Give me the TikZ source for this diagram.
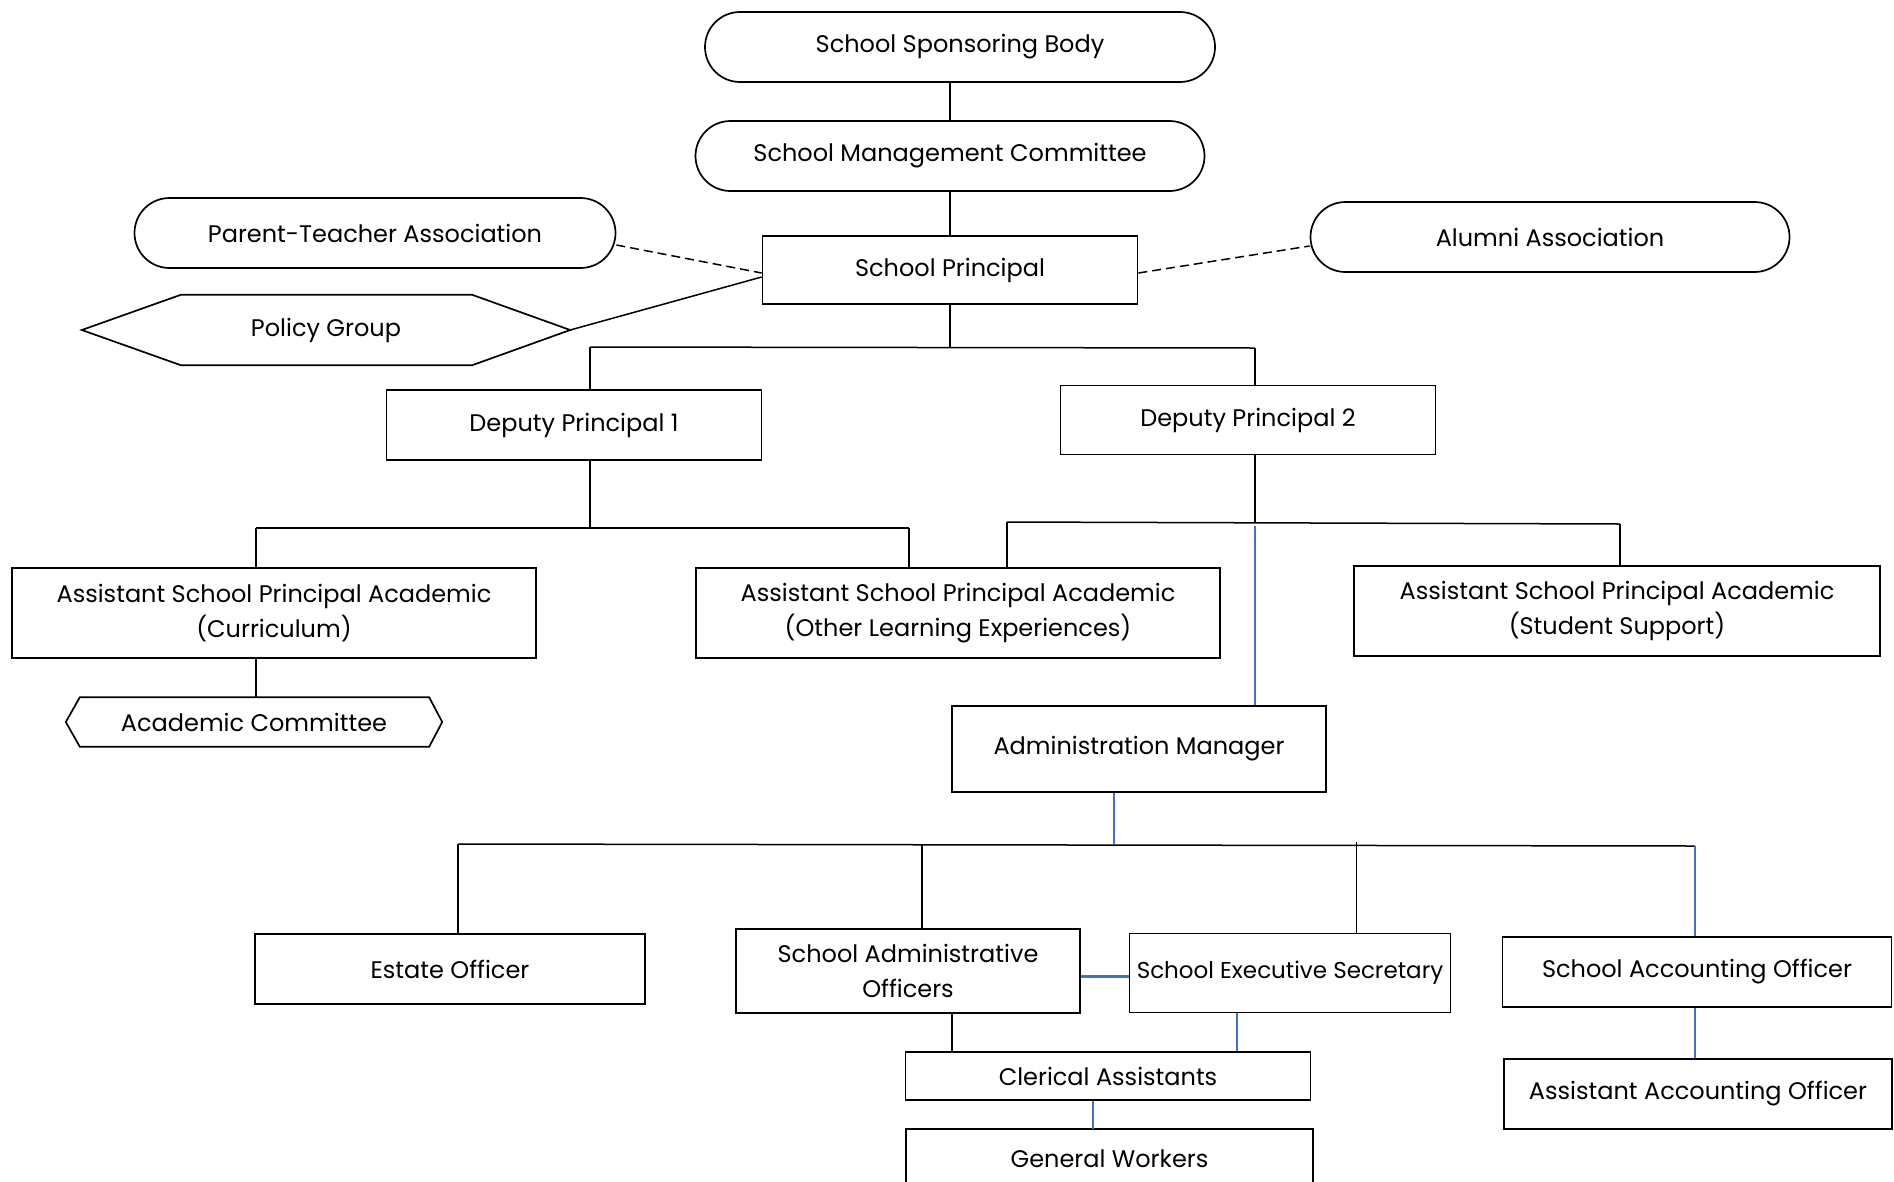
\documentclass[tikz,border=0pt]{standalone}
\usepackage{fontspec}
\setmainfont{Poppins}
\usetikzlibrary{shapes.misc,calc}
\definecolor{lnblue}{RGB}{68,114,196}
\begin{document}
\begin{tikzpicture}[x=1pt,y=-1pt,
  font=\fontsize{24}{35}\selectfont,
  box/.style={draw, line width=1.7pt, rectangle, inner sep=0pt, align=center},
  pill/.style={draw, line width=1.7pt, rounded rectangle, inner sep=0pt, align=center},
  plain/.style={inner sep=0pt, align=center},
  conn/.style={draw=black, line width=1.5pt},
  bconn/.style={draw=lnblue, line width=1.5pt},
  dconn/.style={draw=black, line width=1.5pt, dash pattern=on 9pt off 5pt}]
\useasboundingbox (0,0) rectangle (1894,1181);
\fill[white] (0,0) rectangle (1894,1181);

% top nodes
\node[pill, minimum width=510pt, minimum height=70pt] (sponsor) at (960,47) {School Sponsoring Body};
\node[pill, minimum width=509pt, minimum height=70pt] (smc) at (950,156) {School Management Committee};
\node[box, minimum width=375pt, minimum height=68pt] (principal) at (950,270) {School Principal};
\node[pill, minimum width=481pt, minimum height=70pt] (pta) at (375,233) {Parent-Teacher Association};
\node[pill, minimum width=479pt, minimum height=70pt] (alumni) at (1550,237) {Alumni Association};
\node[plain, minimum width=488pt, minimum height=70pt] (policy) at (326,330) {Policy Group};
\draw[line width=1.7pt] (policy.west) -- ($(policy.north west)+(99,0)$) -- ($(policy.north east)+(-98,0)$)
  -- (policy.east) -- ($(policy.south east)+(-98,0)$) -- ($(policy.south west)+(99,0)$) -- cycle;

% deputies
\node[box, minimum width=375pt, minimum height=70pt] (dp1) at (574,425) {Deputy Principal 1};
\node[box, minimum width=375pt, minimum height=69pt] (dp2) at (1248,420) {Deputy Principal 2};

% assistants
\node[box, minimum width=524pt, minimum height=90pt] (cur) at (274,613) {Assistant School Principal Academic\\(Curriculum)};
\node[box, minimum width=524pt, minimum height=90pt] (ole) at (958,613) {Assistant School Principal Academic\\(Other Learning Experiences)};
\node[box, minimum width=526pt, minimum height=90pt] (ss) at (1617,611) {Assistant School Principal Academic\\(Student Support)};
\node[plain, minimum width=376pt, minimum height=49pt] (acad) at (254,722) {Academic Committee};
\draw[line width=1.7pt] (acad.west) -- ($(acad.north west)+(14,0)$) -- ($(acad.north east)+(-13,0)$)
  -- (acad.east) -- ($(acad.south east)+(-13,0)$) -- ($(acad.south west)+(14,0)$) -- cycle;

% administration
\node[box, minimum width=374pt, minimum height=86pt] (admin) at (1139,749) {Administration Manager};
\node[box, minimum width=390pt, minimum height=70pt] (estate) at (450,969) {Estate Officer};
\node[box, minimum width=344pt, minimum height=84pt] (sao) at (908,971) {School Administrative\\Officers};
\node[box, minimum width=321pt, minimum height=79pt, font=\fontsize{23}{30}\selectfont] (ses) at (1290,973) {School Executive Secretary};
\node[box, minimum width=389pt, minimum height=70pt] (saco) at (1697,972) {School Accounting Officer};
\node[box, minimum width=405pt, minimum height=48pt] (cler) at (1108,1076) {Clerical Assistants};
\node[plain, minimum width=407pt, minimum height=60pt] (gen) at (1109.5,1159) {General Workers};
\draw[line width=1.7pt] ($(gen.west)+(0,30)$) -- (gen.west |- 0,1129) -- (gen.east |- 0,1129) -- ($(gen.east)+(0,30)$);
\node[box, minimum width=388pt, minimum height=70pt] (aao) at (1698,1094) {Assistant Accounting Officer};

% connectors: top chain
\draw[conn] (sponsor.south -| smc.south) -- (smc.north);
\draw[conn] (smc.south) -- (principal.north);
\draw[dconn] ($(pta.east)+(0,12)$) -- ($(principal.west)+(0,3)$);
\draw[dconn] ($(principal.east)+(0,3)$) -- ($(alumni.west)+(0,9)$);
\draw[conn] ($(principal.west)+(0,7)$) -- (policy.east);

% principal to deputies
\coordinate (b1L) at (590,347);
\coordinate (b1R) at (1255,348);
\draw[conn] (principal.south) -- (principal.south |- b1L);
\draw[conn] (b1L) -- (b1R);
\draw[conn] (b1L) -- (b1L |- dp1.north);
\draw[conn] (b1R) -- (b1R |- dp2.north);

% deputy 1 to assistants
\coordinate (b2L) at (256,528);
\coordinate (b2R) at (909,528);
\draw[conn] (dp1.south -| 590,0) -- (590,528);
\draw[conn] (b2L) -- (b2R);
\draw[conn] (b2L) -- (b2L |- cur.north);
\draw[conn] (b2R) -- (b2R |- ole.north);

% deputy 2 to assistants
\coordinate (b3L) at (1007,522);
\coordinate (b3R) at (1620,524);
\draw[conn] (dp2.south -| 1255,0) -- (1255,522);
\draw[conn] (b3L) -- (b3R);
\draw[conn] (b3L) -- (b3L |- ole.north);
\draw[conn] (b3R) -- (b3R |- ss.north);
\draw[bconn] (1255,526) -- (admin.north -| 1255,0);

% curriculum to committee
\draw[conn] (cur.south -| b2L) -- (acad.north -| b2L);

% admin to officers
\coordinate (b4L) at (458,844);
\coordinate (b4R) at (1695,846);
\draw[bconn] (admin.south -| 1114,0) -- (1114,844);
\draw[conn] (b4L) -- (b4R);
\draw[conn] (b4L) -- (b4L |- estate.north);
\draw[conn] (922,844) -- (sao.north -| 922,0);
\draw[draw=black, line width=1pt] (1356,842) -- (ses.north -| 1356,0);
\draw[bconn] (b4R) -- (b4R |- saco.north);
\draw[draw=lnblue, line width=3pt] (sao.east |- 0,976) -- (ses.west |- 0,976);
\draw[conn] (sao.south -| 952,0) -- (cler.north -| 952,0);
\draw[bconn] (ses.south -| 1237,0) -- (cler.north -| 1237,0);
\draw[bconn] (cler.south -| 1093,0) -- (1093,1129);
\draw[bconn] (saco.south -| b4R) -- (aao.north -| b4R);
\end{tikzpicture}
\end{document}
